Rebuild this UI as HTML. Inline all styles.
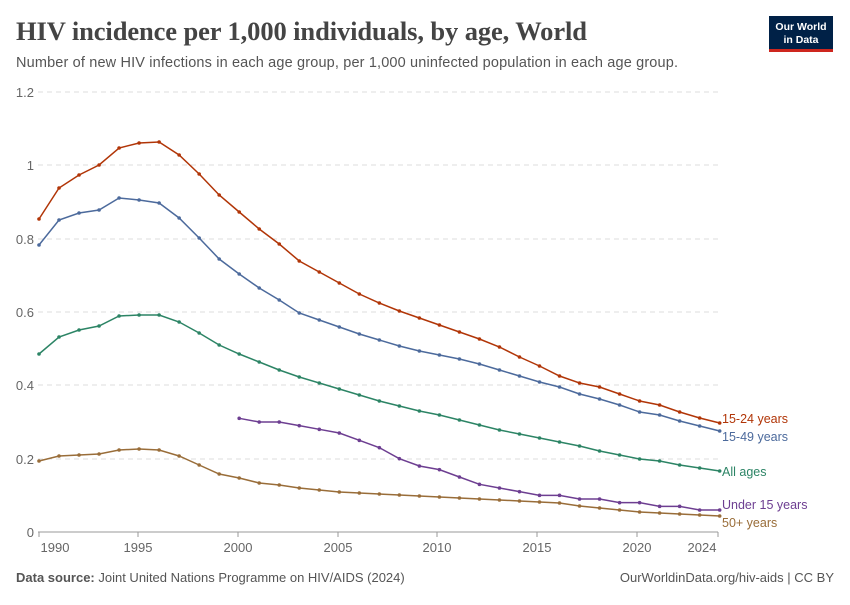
<!DOCTYPE html>
<html><head><meta charset="utf-8"><style>
body{margin:0;background:#fff;width:850px;height:600px;overflow:hidden;font-family:"Liberation Sans",sans-serif}
</style></head><body>
<svg width="850" height="600" xmlns="http://www.w3.org/2000/svg" font-family="Liberation Sans, sans-serif">
<text x="16" y="40" font-family="Liberation Serif, serif" font-size="26.5" font-weight="bold" fill="#444" textLength="571">HIV incidence per 1,000 individuals, by age, World</text>
<text x="16" y="67" font-size="14.5" fill="#555" textLength="662">Number of new HIV infections in each age group, per 1,000 uninfected population in each age group.</text>
<rect x="769" y="16" width="64" height="34" fill="#002147"/>
<rect x="769" y="49" width="64" height="3" fill="#ce261e"/>
<text x="801" y="30" font-size="10.5" font-weight="bold" fill="#fff" text-anchor="middle">Our World</text>
<text x="801" y="43" font-size="10.5" font-weight="bold" fill="#fff" text-anchor="middle">in Data</text>
<g stroke="#ddd" stroke-dasharray="5,4">
<line x1="38" x2="718" y1="92" y2="92"/><line x1="38" x2="718" y1="165" y2="165"/><line x1="38" x2="718" y1="239" y2="239"/><line x1="38" x2="718" y1="312" y2="312"/><line x1="38" x2="718" y1="385" y2="385"/><line x1="38" x2="718" y1="459" y2="459"/>
</g>
<line x1="38" x2="718" y1="532" y2="532" stroke="#999"/>
<g font-size="13" fill="#666" text-anchor="end">
<text x="34" y="97">1.2</text><text x="34" y="170">1</text><text x="34" y="244">0.8</text><text x="34" y="317">0.6</text><text x="34" y="390">0.4</text><text x="34" y="464">0.2</text><text x="34" y="537">0</text>
</g>
<g font-size="13" fill="#666" text-anchor="middle">
<text x="55" y="552">1990</text><text x="138" y="552">1995</text><text x="238" y="552">2000</text><text x="338" y="552">2005</text><text x="437" y="552">2010</text><text x="537" y="552">2015</text><text x="637" y="552">2020</text><text x="702" y="552">2024</text>
</g>
<g stroke="#999"><line x1="138" x2="138" y1="532" y2="537"/><line x1="238" x2="238" y1="532" y2="537"/><line x1="338" x2="338" y1="532" y2="537"/><line x1="437" x2="437" y1="532" y2="537"/><line x1="537" x2="537" y1="532" y2="537"/><line x1="637" x2="637" y1="532" y2="537"/><line x1="718" x2="718" y1="532" y2="537"/><line x1="39" x2="39" y1="532" y2="537"/></g>
<g id="lines" fill="none" stroke-width="1.5"></g>
<g font-size="12.5">
<text x="722" y="423" fill="#b13507">15-24 years</text>
<text x="722" y="441" fill="#4c6a9c">15-49 years</text>
<text x="722" y="476" fill="#2c8465">All ages</text>
<text x="722" y="509" fill="#6d3e91">Under 15 years</text>
<text x="722" y="527" fill="#996d39">50+ years</text>
</g>
<text x="16" y="582" font-size="13" fill="#555"><tspan font-weight="bold">Data source:</tspan> Joint United Nations Programme on HIV/AIDS (2024)</text>
<text x="834" y="582" font-size="13" fill="#555" text-anchor="end">OurWorldinData.org/hiv-aids | CC BY</text>
</svg>
<script>
var u15=[0.31,0.30,0.30,0.29,0.28,0.27,0.25,0.23,0.20,0.18,0.17,0.15,0.13,0.12,0.11,0.10,0.10,0.09,0.09,0.08,0.08,0.07,0.07,0.06,0.06].map(function(v){return 532-v*366.7});
var S=[["#b13507",1990,[219,188,175,165,148,143,142,155,174,195,212,229,244,261,272,283,294,303,311,318,325,332,339,347,357,366,376,383,387,394,401,405,412,418,423]],
["#4c6a9c",1990,[245,220,213,210,198,200,203,218,238,259,274,288,300,313,320,327,334,340,346,351,355,359,364,370,376,382,387,394,399,405,412,415,421,426,431]],
["#2c8465",1990,[354,337,330,326,316,315,315,322,333,345,354,362,370,377,383,389,395,401,406,411,415,420,425,430,434,438,442,446,451,455,459,461,465,468,471]],
["#6d3e91",2000,u15],
["#996d39",1990,[461,456,455,454,450,449,450,456,465,474,478,483,485,488,490,492,493,494,495,496,497,498,499,500,501,502,503,506,508,510,512,513,514,515,516]]];
var g=document.getElementById("lines"),ns="http://www.w3.org/2000/svg";
S.forEach(function(s){var pts=s[2].map(function(v,i){return [39+20.02*(s[1]-1990+i),v]});
var p=document.createElementNS(ns,"polyline");p.setAttribute("points",pts.map(function(a){return a.join(",")}).join(" "));p.setAttribute("stroke",s[0]);g.appendChild(p);
pts.forEach(function(a){var c=document.createElementNS(ns,"circle");c.setAttribute("cx",a[0]);c.setAttribute("cy",a[1]);c.setAttribute("r",1.8);c.setAttribute("fill",s[0]);c.setAttribute("stroke","none");g.appendChild(c);});});
</script>
</body></html>
